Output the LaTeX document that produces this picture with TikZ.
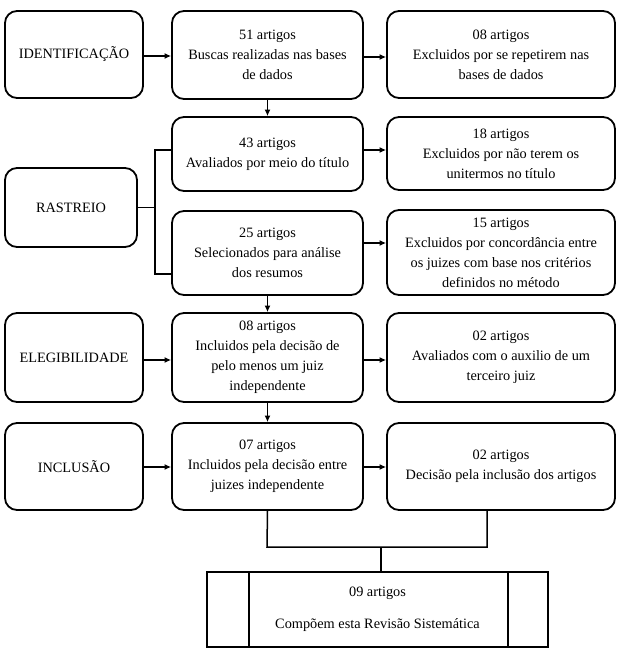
\documentclass[tikz,border=0pt]{standalone}
\usepackage{fontspec}
\setmainfont{Liberation Serif}
\newfontfamily\tnr{Liberation Serif}
\usetikzlibrary{arrows.meta}
\begin{document}
\begin{tikzpicture}[x=1pt,y=-1pt,
  box/.style={draw, line width=1.8pt, rounded corners=12pt, align=center, inner sep=0pt,
    font=\tnr\fontsize{14.3}{20}\selectfont},
  lbox/.style={box, minimum width=138pt},
  mbox/.style={box, minimum width=191pt},
  rbox/.style={box, minimum width=228pt},
  arr/.style={line width=1.5pt, -{Latex[length=6.5pt,width=6pt]}},
  ln/.style={line width=1.5pt}]
\useasboundingbox (0,0) rectangle (626,658);
% left column
\node[lbox, minimum height=87pt] (id) at (74,54.5) {IDENTIFICAÇÃO};
\node[box, minimum width=132pt, minimum height=79pt] (ra) at (71,207.5) {RASTREIO};
\node[lbox, minimum height=89pt] (el) at (74,357.5) {ELEGIBILIDADE};
\node[lbox, minimum height=87pt] (in) at (74,466.5) {INCLUSÃO};
% middle column
\node[mbox, minimum height=88pt] (m1) at (267.5,55) {51 artigos\\Buscas realizadas nas bases\\de dados};
\node[mbox, minimum height=74pt] (m2) at (267.5,154) {43 artigos\\Avaliados por meio do título};
\node[mbox, minimum height=84pt] (m3) at (267.5,253) {25 artigos\\Selecionados para análise\\dos resumos};
\node[mbox, minimum height=89pt] (m4) at (267.5,357.5) {08 artigos\\Incluidos pela decisão de\\pelo menos um juiz\\independente};
\node[mbox, minimum height=87pt] (m5) at (267.5,466.5) {07 artigos\\Incluidos pela decisão entre\\juizes independente};
% right column
\node[rbox, minimum height=87pt] (r1) at (501,54.5) {08 artigos\\Excluidos por se repetirem nas\\bases de dados};
\node[rbox, minimum height=73pt] (r2) at (501,153.5) {18 artigos\\Excluidos por não terem os\\unitermos no título};
\node[rbox, minimum height=85pt] (r3) at (501,252.5) {15 artigos\\Excluidos por concordância entre\\os juizes com base nos critérios\\definidos no método};
\node[rbox, minimum height=89pt] (r4) at (501,357.5) {02 artigos\\Avaliados com o auxilio de um\\terceiro juiz};
\node[rbox, minimum height=87pt] (r5) at (501,466.5) {02 artigos\\Decisão pela inclusão dos artigos};
% final box
\node[draw, line width=1.8pt, minimum width=341pt, minimum height=75pt, align=center, inner sep=0pt,
  font=\tnr\fontsize{14.3}{32}\selectfont] (fin) at (377.5,609.5) {09 artigos\\Compõem esta Revisão Sistemática};
\draw[ln] ([xshift=43pt]fin.north west) -- ([xshift=43pt]fin.south west);
\draw[ln] ([xshift=-41pt]fin.north east) -- ([xshift=-41pt]fin.south east);
% left to middle arrows
\draw[arr] ([yshift=-1.5pt]id.east) -- ([yshift=-1.5pt]id.east -| m1.west);
\draw[arr] ([yshift=-2.5pt]el.east) -- ([yshift=-2.5pt]el.east -| m4.west);
\draw[arr] ([yshift=-0.5pt]in.east) -- ([yshift=-0.5pt]in.east -| m5.west);
% middle to right arrows
\draw[arr] ([yshift=-2pt]m1.east) -- ([yshift=-2pt]m1.east -| r1.west);
\draw[arr] ([yshift=4pt]m2.east) -- ([yshift=4pt]m2.east -| r2.west);
\draw[arr] ([yshift=10pt]m3.east) -- ([yshift=10pt]m3.east -| r3.west);
\draw[arr] ([yshift=-2.5pt]m4.east) -- ([yshift=-2.5pt]m4.east -| r4.west);
\draw[arr] ([yshift=-0.5pt]m5.east) -- ([yshift=-0.5pt]m5.east -| r5.west);
% vertical arrows
\draw[arr] (m1.south) -- (m2.north);
\draw[arr] (m3.south) -- (m4.north);
\draw[arr] (m4.south) -- (m5.north);
% rastreio bracket
\coordinate (bt) at (155,150);
\coordinate (bb) at (155,274);
\draw[ln] (ra.east) -- (ra.east -| bt);
\draw[ln] (bt -| m2.west) -- (bt) -- (bb) -- (bb -| m3.west);
% bottom join
\coordinate (jl) at (267,547);
\coordinate (jr) at (487,547);
\coordinate (jm) at (381,547);
\draw[ln] (m5.south) -- (jl) -- (jr) -- (jr |- r5.south);
\draw[ln] (jm) -- (jm |- fin.north);
\end{tikzpicture}
\end{document}
